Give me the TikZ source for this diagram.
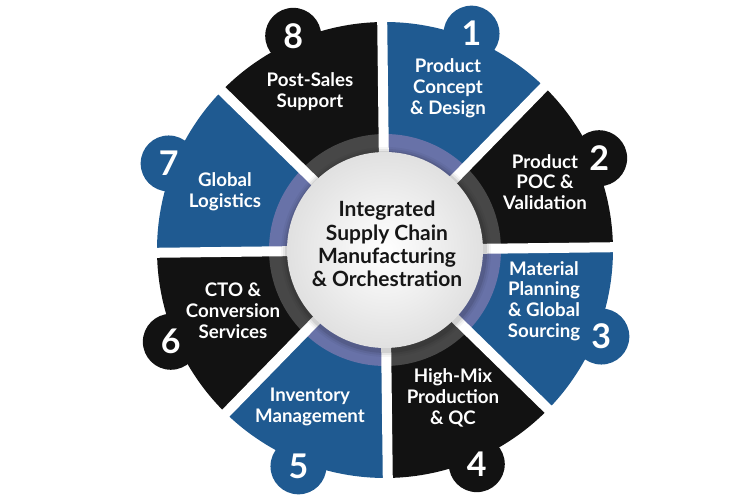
\documentclass[tikz,border=0pt]{standalone}
\usepackage{fontspec}
\setmainfont{Lato}
\definecolor{segblue}{HTML}{1F5A91}
\definecolor{segblack}{HTML}{121212}
\definecolor{ringblue}{HTML}{6872A8}
\definecolor{ringblack}{HTML}{474747}
\definecolor{centertext}{HTML}{161616}
\begin{document}
\begin{tikzpicture}[x=1pt,y=1pt,
  segtext/.style={text=white, font=\bfseries\fontsize{18.7}{20.8}\selectfont, align=center, inner sep=0pt},
  numtext/.style={text=white, font=\bfseries\fontsize{34}{34}\selectfont, inner sep=0pt},
  hubtext/.style={text=centertext, font=\bfseries\fontsize{21}{23.2}\selectfont, align=center, inner sep=0pt},
  gapline/.style={white, line width=10pt}]
\useasboundingbox (-385,-250) rectangle (365,250);
\def\R{228}
\def\rb{233}
\def\bumpr{28}
\def\off{0.7}
% segments with bumps
\foreach \a/\c in {45/segblue, 0/segblack, -45/segblue, -90/segblack, -135/segblue, 180/segblack, 135/segblue, 90/segblack} {
  \fill[\c] (0,0) -- (\a+\off:\R) arc[start angle=\a+\off, end angle=\a+45+\off, radius=\R] -- cycle;
  \fill[\c] (\a+22.5+\off:\rb) circle[radius=\bumpr];
}
% inner ring
\foreach \a/\c in {45/ringblue, 0/ringblack, -45/ringblue, -90/ringblack, -135/ringblue, 180/ringblack, 135/ringblue, 90/ringblack} {
  \fill[\c] (0,0) -- (\a+\off:116) arc[start angle=\a+\off, end angle=\a+45+\off, radius=116] -- cycle;
}
% gaps
\foreach \a in {0,45,...,315} {
  \draw[gapline] (0,0) -- (\a+\off:275);
}
% shadow around hub
\foreach \r/\o in {105/0.04, 103/0.06, 101/0.09} {
  \fill[black, opacity=\o] (1,-2) circle[radius=\r];
}
% hub
\shade[inner color=white, outer color=white!88!black] (0,0) circle[radius=98];
\node[hubtext] (hub) at (2,6) {Integrated\\Supply Chain\\Manufacturing\\\& Orchestration};
% numbers
\foreach \n/\a in {1/45, 2/0, 3/-45, 4/-90, 5/-135, 6/180, 7/135, 8/90} {
  \node[numtext] (num\n) at (\a+22.5+\off:\rb) {\n};
}
% labels
\node[segtext] (t1) at (63,162) {Product\\Concept\\\& Design};
\node[segtext] (t2) at (160,68) {Product\\POC \&\\Validation};
\node[segtext] (t3) at (159,-51) {Material\\Planning\\\& Global\\Sourcing};
\node[segtext] (t4) at (68,-148) {High-Mix\\Production\\\& QC};
\node[segtext] (t5) at (-75,-157) {Inventory\\Management};
\node[segtext] (t6) at (-152,-61) {CTO \&\\Conversion\\Services};
\node[segtext] (t7) at (-160,58) {Global\\Logistics};
\node[segtext] (t8) at (-75,158) {Post-Sales\\Support};
\end{tikzpicture}
\end{document}
